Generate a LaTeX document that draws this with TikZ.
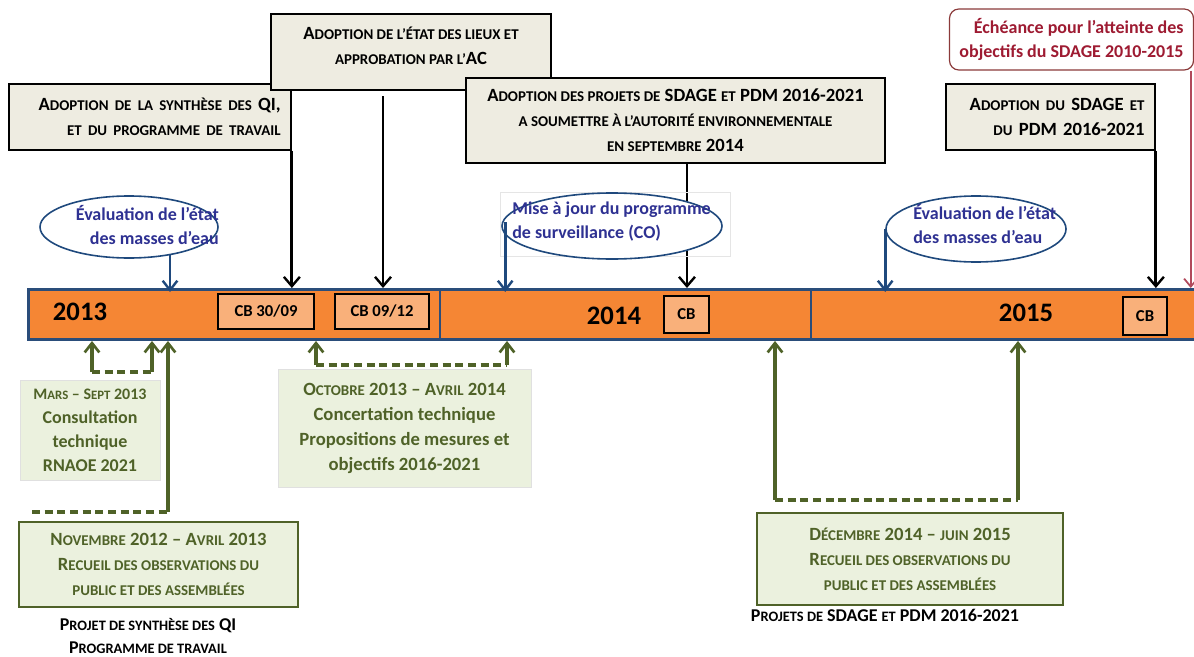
\documentclass[tikz,border=0pt]{standalone}
\usepackage{fontspec}
\setmainfont{Carlito}
\usetikzlibrary{arrows.meta, shapes.geometric, positioning}
\definecolor{barorange}{HTML}{F58634}
\definecolor{barblue}{HTML}{2A4D7A}
\definecolor{cborange}{HTML}{F9B07A}
\definecolor{tanbg}{HTML}{EEECE1}
\definecolor{ellblue}{HTML}{1F497D}
\definecolor{elltext}{HTML}{2E3192}
\definecolor{greenbg}{HTML}{EBF1DE}
\definecolor{olive}{HTML}{4F6228}
\definecolor{deadred}{HTML}{9E1B32}
\definecolor{deadedge}{HTML}{8B3A3A}
\makeatletter
\newcommand\smc[1]{{\fontsize{\fpeval{0.8*\f@size}}{\f@baselineskip}\selectfont #1}}
\makeatother
\newcommand\fbig{\fontsize{14}{18.75}\selectfont\bfseries}

\begin{document}
\begin{tikzpicture}[x=0.75pt, y=-0.75pt,
  bar/.style={rectangle, draw=barblue, fill=barorange, line width=2.2pt, inner sep=0pt, anchor=north west},
  divider/.style={draw=barblue, line width=1.8pt},
  year/.style={font=\fontsize{20}{24}\selectfont\bfseries},
  cbbox/.style={rectangle, draw=black, fill=cborange, line width=1.5pt, inner sep=0pt, font=\fontsize{12.5}{15}\selectfont\bfseries},
  topbox/.style={rectangle, draw=black, fill=tanbg, line width=1.3pt, inner xsep=7pt, inner ysep=0pt, font=\fbig},
  deadline/.style={rectangle, draw=deadedge, fill=white, rounded corners=7pt, line width=0.9pt, inner sep=0pt, text=deadred, align=right, font=\fontsize{13.5}{18}\selectfont\bfseries},
  oval/.style={ellipse, draw=ellblue, fill=white, line width=1.2pt, inner sep=0pt},
  ovaltext/.style={text=elltext, font=\fontsize{13.5}{18}\selectfont\bfseries, inner sep=0pt},
  greenbox/.style={rectangle, draw=black!12, fill=greenbg, line width=0.6pt, inner sep=0pt, text=olive, align=center, font=\fbig},
  greenframe/.style={greenbox, draw=olive, line width=1.6pt},
  note/.style={align=center, font=\fontsize{13.5}{17}\selectfont\bfseries, inner sep=0pt},
  darrow/.style={-{Straight Barb[length=7pt, width=12pt, line width=1.8pt]}, line width=2.1pt, draw=black},
  barrow/.style={-{Straight Barb[length=7pt, width=11pt, line width=1.8pt]}, line width=2pt, draw=ellblue, shorten >=-3pt},
  rarrow/.style={-{Straight Barb[length=6pt, width=10pt, line width=1.3pt]}, line width=1.4pt, draw=deadred!80},
  garrow/.style={-{Straight Barb[length=7pt, width=11pt, line width=2pt]}, line width=2.5pt, draw=olive},
  gdash/.style={line width=2.5pt, draw=olive, dash pattern=on 6pt off 3.5pt}
]
  \useasboundingbox (0,0) rectangle (1194,656);

  % timeline
  \node[bar, minimum width=882pt, minimum height=37.5pt] (bar) at (27,288) {};
  \draw[divider] (440,288) -- (440,338);
  \draw[divider] (811,288) -- (811,338);
  \node[year] (y13) at (80,312) {2013};
  \node[year] (y14) at (614,316) {2014};
  \node[year] (y15) at (1026,313) {2015};
  \node[cbbox, minimum width=72pt, minimum height=26.25pt] (cb1) at (266,311.5) {CB 30/09};
  \node[cbbox, minimum width=70.5pt, minimum height=26.25pt] (cb2) at (382,311.5) {CB 09/12};
  \node[cbbox, minimum width=33.75pt, minimum height=27.75pt] (cb3) at (686.5,314.5) {CB};
  \node[cbbox, minimum width=33pt, minimum height=28.5pt] (cb4) at (1145,316) {CB};

  % decisions above the timeline
  \node[topbox, minimum width=211.5pt, minimum height=49.5pt, text width=196pt, align=right] (synth) at (150,117)
    {A\smc{DOPTION DE LA SYNTHÈSE DES} QI,\\\smc{ET DU PROGRAMME DE TRAVAIL}};
  \node[topbox, minimum width=210pt, minimum height=57pt, align=center] (lieux) at (411,52)
    {A\smc{DOPTION DE L’ÉTAT DES LIEUX ET}\\\smc{APPROBATION PAR L’}AC\\[-9pt]\mbox{}};
  \node[topbox, minimum width=314.25pt, minimum height=63.75pt, align=center] (projets) at (675.5,120.5)
    {A\smc{DOPTION DES PROJETS DE} SDAGE \smc{ET} PDM 2016-2021\\\smc{A SOUMETTRE À L’AUTORITÉ ENVIRONNEMENTALE}\\\smc{EN SEPTEMBRE} 2014};
  \node[topbox, minimum width=156.75pt, minimum height=49.5pt, text width=141pt, align=right] (sdage) at (1050.5,117)
    {A\smc{DOPTION DU} SDAGE \smc{ET}\\\smc{DU} PDM 2016-2021};
  \node[deadline, minimum width=183pt, minimum height=45.75pt] (echeance) at (1071.5,39.5)
    {Échéance pour l’atteinte des\\objectifs du SDAGE 2010-2015};

  \coordinate (lieuxfoot) at ([xshift=-21pt]lieux.south);
  \coordinate (projetsfoot) at ([xshift=8.6pt]projets.south);
  \coordinate (echfoot) at ([xshift=-2.5pt]echeance.south east);
  \draw[darrow] (synth.south east) -- (synth.south east |- bar.north);
  \draw[darrow] ([yshift=-4pt]lieuxfoot) -- (lieuxfoot |- bar.north);
  \draw[darrow] (projetsfoot) -- (projetsfoot |- bar.north);
  \draw[darrow] (sdage.south east) -- (sdage.south east |- bar.north);
  \draw[rarrow] (echfoot) -- (echfoot |- bar.north);

  % monitoring ovals
  \draw[black!10, line width=0.6pt] (500,192) rectangle (730,256);
  \node[oval, minimum width=133.5pt, minimum height=46.5pt] (eval1) at (129,227) {};
  \node[ovaltext, anchor=east, align=right] (eval1txt) at (219,225) {Évaluation de l’état\\des masses d’eau};
  \node[oval, minimum width=165pt, minimum height=49.5pt] (suivi) at (612,226) {};
  \node[ovaltext, anchor=west, align=left] (suivitxt) at (512,222) {Mise à jour du programme\\de surveillance (CO)};
  \node[oval, minimum width=135pt, minimum height=49.5pt] (eval2) at (976,229) {};
  \node[ovaltext, anchor=west, align=left] (eval2txt) at (913,224) {Évaluation de l’état\\des masses d’eau};

  \coordinate (eval1foot) at ([xshift=30.75pt, yshift=3pt]eval1.south);
  \coordinate (suivifoot) at ([xshift=3pt, yshift=3pt]suivi.west);
  \draw[barrow] (eval1foot) -- (eval1foot |- bar.north);
  \draw[barrow] (suivifoot) -- (suivifoot |- bar.north);
  \draw[barrow] (eval2.west) -- (eval2.west |- bar.north);

  % consultations below the timeline
  \node[greenbox, minimum width=105pt, minimum height=75pt, font=\fontsize{13.5}{18}\selectfont\bfseries] (rnaoe) at (90,430)
    {{\fontsize{12}{18}\selectfont M\smc{ARS} – S\smc{EPT} 2013}\\Consultation\\technique\\RNAOE 2021};
  \node[greenframe, minimum width=209.25pt, minimum height=63.75pt] (public1) at (158.5,564.5)
    {N\smc{OVEMBRE} 2012 – A\smc{VRIL} 2013\\R\smc{ECUEIL DES OBSERVATIONS DU}\\\smc{PUBLIC ET DES ASSEMBLÉES}};
  \node[greenbox, minimum width=189.75pt, minimum height=88.5pt] (concert) at (404.5,428)
    {O\smc{CTOBRE} 2013 – A\smc{VRIL} 2014\\Concertation technique\\Propositions de mesures et\\objectifs 2016-2021};
  \node[greenframe, minimum width=229.5pt, minimum height=69pt] (public2) at (910,559)
    {D\smc{ÉCEMBRE} 2014 – \smc{JUIN} 2015\\R\smc{ECUEIL DES OBSERVATIONS DU}\\\smc{PUBLIC ET DES ASSEMBLÉES}};
  \node[note] (docs1) at (148,636) {P\smc{ROJET DE SYNTHÈSE DES} QI\\P\smc{ROGRAMME DE TRAVAIL}};
  \node[note] (docs2) at (885,615) {P\smc{ROJETS DE} SDAGE \smc{ET} PDM 2016-2021};

  \coordinate (rn1) at (92,372);
  \coordinate (rn2) at (152,372);
  \coordinate (pb0) at (32,512);
  \coordinate (pb1) at (168,512);
  \coordinate (co1) at (316,365);
  \coordinate (co2) at (507,365);
  \coordinate (pc1) at (775,500);
  \coordinate (pc2) at (1018,500);
  \draw[gdash] (rn1) -- (rn2);
  \draw[garrow] (rn1) -- (rn1 |- bar.south);
  \draw[garrow] (rn2) -- (rn2 |- bar.south);
  \draw[gdash] (pb0) -- (pb1);
  \draw[garrow] (pb1) -- (pb1 |- bar.south);
  \draw[gdash] (co1) -- (co2);
  \draw[garrow] (co1) -- (co1 |- bar.south);
  \draw[garrow] (co2) -- (co2 |- bar.south);
  \draw[gdash] (pc1) -- (pc2);
  \draw[garrow] (pc1) -- (pc1 |- bar.south);
  \draw[garrow] (pc2) -- (pc2 |- bar.south);
\end{tikzpicture}
\end{document}
